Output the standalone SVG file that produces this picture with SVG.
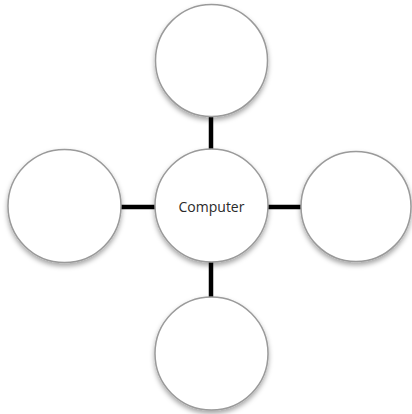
<svg xmlns="http://www.w3.org/2000/svg" width="412" height="414" viewBox="0 0 412 414">
<defs>
<filter id="sh" x="-20%" y="-20%" width="140%" height="150%">
<feDropShadow dx="0" dy="3" stdDeviation="2.5" flood-color="#000" flood-opacity="0.35"/>
</filter>
</defs>
<style>
.n{fill:#fff;stroke:#9a9a9a;stroke-width:1.5;filter:url(#sh)}
.c{stroke:#000;stroke-width:4.5}
.t{font-family:"Open Sans","Liberation Sans",sans-serif;font-size:14px;fill:#2a2a2a;text-anchor:middle}
</style>
<rect width="412" height="414" fill="#fff"/>
<g id="connectors">
<line class="c" x1="211" y1="116" x2="211" y2="150"/>
<line class="c" x1="121" y1="207" x2="155" y2="207"/>
<line class="c" x1="268" y1="207" x2="301" y2="207"/>
<line class="c" x1="211" y1="262" x2="211" y2="297"/>
</g>
<g id="top"><circle class="n" cx="211.5" cy="60.5" r="56"/></g>
<g id="left"><circle class="n" cx="64.5" cy="206" r="56.5"/></g>
<g id="right"><circle class="n" cx="356" cy="206.5" r="55"/></g>
<g id="bottom"><circle class="n" cx="211.5" cy="353.5" r="56.5"/></g>
<g id="center"><circle class="n" cx="211.5" cy="205.5" r="56.5"/>
<text class="t" x="211.5" y="212">Computer</text></g>
</svg>
